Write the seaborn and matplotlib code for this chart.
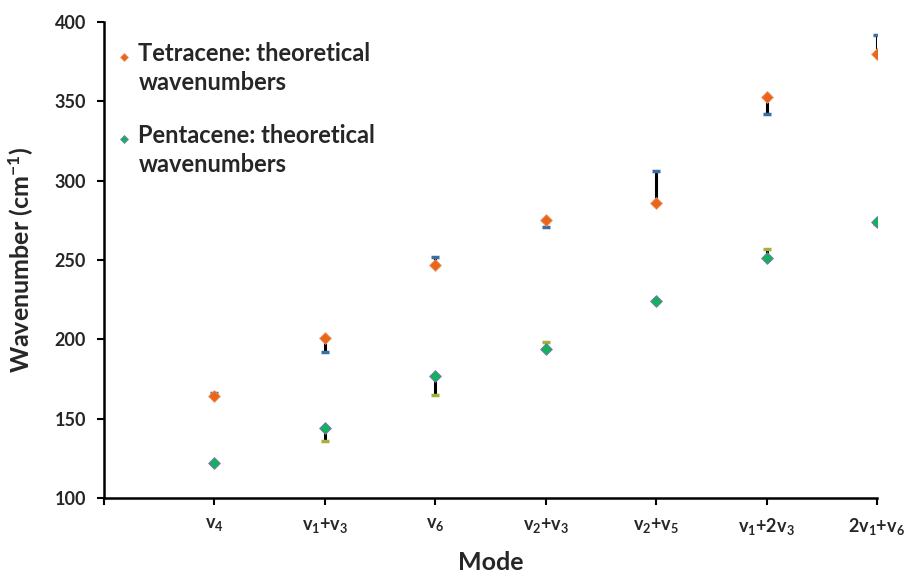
import numpy as np
import pandas as pd
import matplotlib
matplotlib.use("Agg")
import matplotlib.pyplot as plt
from matplotlib.lines import Line2D
import seaborn as sns

modes = [r"v$_{4}$", r"v$_{1}$+v$_{3}$", r"v$_{6}$", r"v$_{2}$+v$_{3}$",
         r"v$_{2}$+v$_{5}$", r"v$_{1}$+2v$_{3}$", r"2v$_{1}$+v$_{6}$"]
tetracene_theory = [164, 201, 247, 275, 286, 353, 380]
tetracene_exp = [166, 192, 252, 271, 306, 342, 392]
pentacene_theory = [122, 144, 177, 194, 224, 251, 274]
pentacene_exp = [122, 136, 165, 198, 224, 257, 273]
yticks = [100, 150, 200, 250, 300, 350, 400]
labels = ["Tetracene: theoretical\nwavenumbers", "Pentacene: theoretical\nwavenumbers"]

sns.set_style("white")
plt.rcParams["font.family"] = ["Lato", "DejaVu Sans"]
plt.rcParams["font.weight"] = "bold"
plt.rcParams["mathtext.fontset"] = "custom"
plt.rcParams["mathtext.rm"] = "Lato:bold"
plt.rcParams["mathtext.it"] = "Lato:bold"
plt.rcParams["mathtext.bf"] = "Lato:bold"

pos = np.arange(1, len(modes) + 1)

fig, ax = plt.subplots(figsize=(9.05, 5.81), dpi=100)
fig.subplots_adjust(left=0.115, right=0.969, top=0.962, bottom=0.143)

face = ["#E8661C", "#12B25A"]
edge = ["#F29560", "#8A6CC0"]
capcol = ["#3A6EA5", "#A3B03C"]

for theo, exp, cc in [(tetracene_theory, tetracene_exp, capcol[0]),
                      (pentacene_theory, pentacene_exp, capcol[1])]:
    theo = np.array(theo, float)
    exp = np.array(exp, float)
    lower = np.clip(theo - exp, 0, None)
    upper = np.clip(exp - theo, 0, None)
    ax.errorbar(pos, theo, yerr=[lower, upper], fmt="none", ecolor="black",
                elinewidth=2.2, capsize=0, zorder=2)
    ax.plot(pos, exp, linestyle="none", marker="_", markersize=6,
            markeredgewidth=2.5, color=cc, zorder=3)

for vals, fc, ec in [(tetracene_theory, face[0], edge[0]),
                     (pentacene_theory, face[1], edge[1])]:
    sns.scatterplot(x=pos, y=vals, marker="D", color=fc, edgecolor=ec,
                    linewidth=0.6, s=36, ax=ax, zorder=4, legend=False)

ax.set_xlim(0, 7)
ax.set_ylim(100, 400)
ax.set_xticks(np.arange(0, 8))
ax.set_xticklabels([""] + modes)
ax.set_yticks(yticks)
ax.set_yticklabels([str(t) for t in yticks])
ax.tick_params(axis="both", length=5, width=1.5, color="black",
               direction="out", bottom=True, left=True, pad=8)
ax.tick_params(axis="x", labelsize=13)
ax.tick_params(axis="y", labelsize=13)
for lab in ax.get_xticklabels() + ax.get_yticklabels():
    lab.set_fontweight("bold")
ax.set_xlabel("Mode", fontsize=18, fontweight="bold", labelpad=10)
ax.set_ylabel("Wavenumber (cm$^{-1}$)", fontsize=18, fontweight="bold", labelpad=13)
sns.despine(ax=ax)
for s in ["left", "bottom"]:
    ax.spines[s].set_linewidth(1.8)
    ax.spines[s].set_color("black")

handles = [Line2D([], [], linestyle="none", marker="D", markersize=4.5,
                  markerfacecolor=face[i], markeredgecolor=edge[i],
                  markeredgewidth=0.5) for i in range(2)]
leg = ax.legend(handles, labels, loc="upper left", bbox_to_anchor=(-0.012, 0.993),
                frameon=False, prop={"size": 17, "weight": "bold"},
                handletextpad=0.05, handlelength=1.1, labelspacing=1.3,
                borderaxespad=0.3)
for t in leg.get_texts():
    t.set_linespacing(1.3)
for h in leg.legend_handles:
    y = np.asarray(h.get_ydata(), float)
    h.set_ydata(y + 9)

fig.savefig("out.png", dpi=100)
